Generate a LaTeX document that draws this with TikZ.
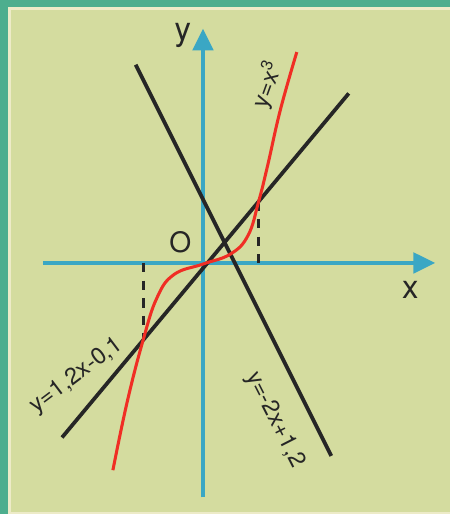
\documentclass[tikz,border=0pt]{standalone}
\usepackage{fontspec}
\setmainfont{TeX Gyre Heros}
\usetikzlibrary{arrows.meta}
\definecolor{frame}{HTML}{4DAE8E}
\definecolor{paper}{HTML}{D4DC9F}
\definecolor{rim}{HTML}{EDEBC8}
\definecolor{axisblue}{HTML}{3AA7C4}
\definecolor{curvered}{HTML}{F02E24}
\tikzstyle{axis} = [line width=2.6pt, draw=axisblue, -{Triangle[length=0.65cm, width=0.62cm]}]
\tikzstyle{graphline} = [line width=3.2pt, draw=black!85]
\tikzstyle{cubic} = [line width=2.6pt, draw=curvered]
\tikzstyle{helper} = [line width=2.6pt, draw=black!85, dash pattern=on 8pt off 7pt]
\tikzstyle{eqlabel} = [font=\fontsize{20}{22}\selectfont, text=black!85, inner sep=0pt]
\tikzstyle{axislabel} = [font=\fontsize{28}{30}\selectfont, text=black!85, inner sep=0pt]

\begin{document}
\begin{tikzpicture}[x=1.59cm, y=1.59cm]
		% background and frame
		\useasboundingbox (-3.83,-4.736) rectangle (4.66,4.962);
		\fill[frame] (-3.83,-4.736) rectangle (4.66,4.962);
		\fill[rim] (-3.68,-4.736) rectangle (4.66,4.83);
		\fill[paper] (-3.62,-4.70) rectangle (4.66,4.77);
		
		% axes
		\coordinate (o) at (0,0);
		\coordinate (xstart) at (-3.02,0);
		\coordinate (xend) at (4.38,0);
		\coordinate (ystart) at (0,-4.42);
		\coordinate (yend) at (0,4.42);
		\draw [axis] (xstart) -- (xend);
		\draw [axis] (ystart) -- (yend);
		
		% intersection points
		\coordinate (left) at (-1.13,-1.456);
		\coordinate (leftfoot) at (-1.13,0);
		\coordinate (right) at (1.05,1.16);
		\coordinate (rightfoot) at (1.05,0);
		\draw [helper] (leftfoot) -- (left);
		\draw [helper] (right) -- (rightfoot);
		
		% graphs
		\draw [graphline] (-1.27,3.74) -- (2.42,-3.64);
		\draw [graphline] (-2.66,-3.292) -- (2.75,3.2);
		\draw [cubic] plot[smooth, tension=0.7] coordinates {(-1.70,-3.91) (-1.43,-2.62) (-1.13,-1.456) (-0.87,-0.66) (-0.55,-0.22) (0,-0.02) (0.52,0.17) (0.85,0.52) (1.05,1.16) (1.22,1.84) (1.46,2.89) (1.77,3.98)};
		
		% labels
		\node (ylab) [axislabel] at (-0.38,4.30) {y};
		\node (xlab) [axislabel] at (3.91,-0.51) {x};
		\node (olab) [axislabel, font=\fontsize{24}{26}\selectfont] at (-0.43,0.40) {O};
		\node (cubiclab) [eqlabel, rotate=70] at (1.21,3.36) {y=x\textsuperscript{3}};
		\node (risinglab) [eqlabel, rotate=37] at (-2.38,-2.13) {y=1,2x-0,1};
		\node (fallinglab) [eqlabel, rotate=-63] at (1.36,-2.96) {y=-2x+1,2};
\end{tikzpicture}
\end{document}
